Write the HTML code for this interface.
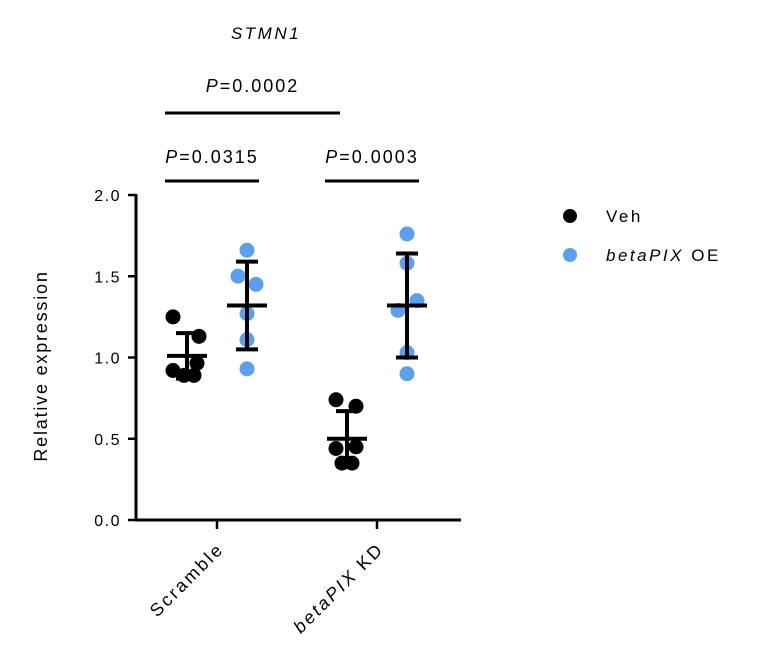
<!DOCTYPE html>
<html><head><meta charset="utf-8"><style>
body{margin:0;background:#fff;}
svg{display:block;font-family:"Liberation Sans",sans-serif;}
</style></head><body>
<svg id="chart" width="757" height="671" xmlns="http://www.w3.org/2000/svg">
<text x="266" y="39" text-anchor="middle" font-size="17" font-style="italic" letter-spacing="2.5">STMN1</text>
<g id="sig"></g>
<g id="axes"></g>
<g id="marks"></g>
<g>
<g><circle cx="570" cy="216" r="7" fill="#000"/><text x="606" y="222" font-size="17" letter-spacing="2.5">Veh</text></g>
<g><circle cx="570" cy="255" r="7" fill="#5aa0ef"/><text x="606" y="261" font-size="17" letter-spacing="2.5"><tspan font-style="italic">betaPIX</tspan> OE</text></g>
</g>
<text transform="translate(47,366) rotate(-90)" text-anchor="middle" font-size="18" letter-spacing="1.8">Relative expression</text>
</svg>
<script>
const categories=["Scramble","betaPIX KD"];
const vehValues=[[1.25,1.13,0.965,0.92,0.89,0.89],[0.74,0.70,0.44,0.45,0.35,0.35]];
const oeValues=[[1.66,1.50,1.45,1.27,1.11,0.93],[1.76,1.58,1.35,1.29,1.03,0.90]];
const vehOffsets=[[-14,12,10,-14,-3,7],[-11,9,-11,9,-5,5]];
const oeOffsets=[[0,-9,9,0,0,0],[0,0,10,-9,0,0]];
const vehMean=[1.01,0.50];const vehSD=[0.14,0.17];
const oeMean=[1.32,1.32];const oeSD=[0.27,0.32];
const yTicks=[0,0.5,1.0,1.5,2.0];
const yTickLabels=["0.0","0.5","1.0","1.5","2.0"];
const sigLabels=["P=0.0002","P=0.0315","P=0.0003"];
const NS="http://www.w3.org/2000/svg";
const y=v=>520-v*162.5;
const x=i=>217+i*160;
function el(tag,attrs,parent){const e=document.createElementNS(NS,tag);for(const k in attrs)e.setAttribute(k,attrs[k]);parent.appendChild(e);return e;}
const axes=document.getElementById('axes'),marks=document.getElementById('marks'),sig=document.getElementById('sig');
let a=el('line',{x1:136,y1:194,x2:136,y2:521,stroke:'#000','stroke-width':3},axes);

a=el('line',{x1:135,y1:520,x2:461,y2:520,stroke:'#000','stroke-width':3},axes);

yTicks.forEach((v,i)=>{
 const t=el('line',{x1:128,y1:y(v),x2:136,y2:y(v),stroke:'#000','stroke-width':2.5},axes);
 
 const l=el('text',{x:121,y:y(v)+6,'text-anchor':'end','font-size':16,'letter-spacing':1.5},axes);l.textContent=yTickLabels[i];
 
});
categories.forEach((c,i)=>{
 const t=el('line',{x1:x(i),y1:520,x2:x(i),y2:529,stroke:'#000','stroke-width':2.5},axes);
 
 const l=el('text',{transform:`translate(${x(i)+8},${550}) rotate(-45)`,'text-anchor':'end','font-size':18,'letter-spacing':2.5},axes);
 if(c.startsWith('betaPIX')){const s=el('tspan',{'font-style':'italic'},l);s.textContent='betaPIX';l.appendChild(document.createTextNode(' KD'));}else l.textContent=c;
 
});
function group(cx,vals,offs,mean,sd,color,name){
 vals.forEach((v,j)=>{const p=el('circle',{cx:cx+offs[j],cy:y(v),r:7.5,fill:color},marks);
  });
 const g=el('g',{stroke:'#000','stroke-width':4},marks);
 
 el('line',{x1:cx,y1:y(mean+sd),x2:cx,y2:y(mean-sd)},g);
 el('line',{x1:cx-20,y1:y(mean),x2:cx+20,y2:y(mean)},g);
 el('line',{x1:cx-11,y1:y(mean+sd),x2:cx+11,y2:y(mean+sd)},g);
 el('line',{x1:cx-11,y1:y(mean-sd),x2:cx+11,y2:y(mean-sd)},g);
}
categories.forEach((c,i)=>{
 group(x(i)-30,vehValues[i],vehOffsets[i],vehMean[i],vehSD[i],'#000','veh');
 group(x(i)+30,oeValues[i],oeOffsets[i],oeMean[i],oeSD[i],'#5aa0ef','oe');
});
const sigDefs=[[x(0)-52,x(1)-37,113,86],[x(0)-52,x(0)+42,181,157],[x(1)-52,x(1)+42,181,157]];
sigDefs.forEach((d,i)=>{
 const b=el('line',{x1:d[0],y1:d[2],x2:d[1],y2:d[2],stroke:'#000','stroke-width':3},sig);
 
 const t=el('text',{x:(d[0]+d[1])/2,y:d[3]+6,'text-anchor':'middle','font-size':18,'letter-spacing':2},sig);
 const s=el('tspan',{'font-style':'italic'},t);s.textContent='P';t.appendChild(document.createTextNode(sigLabels[i].slice(1)));
 
});
</script>
</body></html>
